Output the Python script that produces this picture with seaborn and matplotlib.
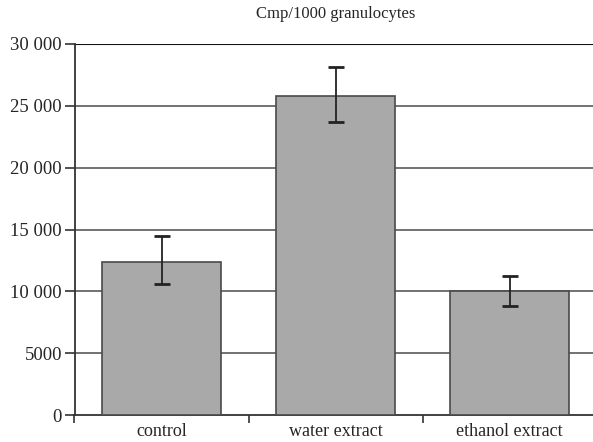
import matplotlib
matplotlib.use("Agg")
import matplotlib.pyplot as plt
import seaborn as sns
import pandas as pd
import numpy as np
from matplotlib.ticker import FuncFormatter, FixedLocator

categories = ["control", "water extract", "ethanol extract"]
values = [12400, 25800, 10000]
err_low = [10600, 23700, 8800]
err_high = [14500, 28100, 11200]
yticks = [0, 5000, 10000, 15000, 20000, 25000, 30000]
title = "Cmp/1000 granulocytes"

sns.set_theme(style="white")
plt.rcParams["font.family"] = ["Liberation Serif", "DejaVu Serif"]

fig = plt.figure(figsize=(5.93, 4.42), dpi=100)
ax = fig.add_axes([74.5 / 593, 1 - 415 / 442, 1 - 74.5 / 593 + 0.006, (415 - 44) / 442])

df = pd.DataFrame({"cat": categories, "val": values})
sns.barplot(data=df, x="cat", y="val", ax=ax, color="#a9a9a9", saturation=1,
            width=0.68, edgecolor="#4a4a4a", linewidth=1.2, errorbar=None, zorder=3)

x = np.arange(len(categories))
lo = np.array(values) - np.array(err_low)
hi = np.array(err_high) - np.array(values)
ax.errorbar(x, values, yerr=[lo, hi], fmt="none", ecolor="#222222",
            elinewidth=1.3, capsize=6, capthick=2, zorder=4)

ax.set_ylim(0, 30000)
ax.set_xlim(-0.5, 2.5)
ax.set_yticks(yticks)
ax.yaxis.set_major_formatter(FuncFormatter(
    lambda v, p: "0" if v == 0 else ("5000" if v == 5000 else f"{int(v):,}".replace(",", " "))))
for yv in yticks[1:-1]:
    ax.axhline(yv, color="#5a5a5a", linewidth=1.2, zorder=1)
ax.axhline(30000, color="#111111", linewidth=1.5, zorder=1)

ax.set_xlabel("")
ax.set_ylabel("")
ax.set_title(title, fontsize=12, pad=19)

for s in ["right", "top"]:
    ax.spines[s].set_visible(False)
ax.spines["left"].set_color("#333333")
ax.spines["left"].set_linewidth(1.3)
ax.spines["bottom"].set_color("#333333")
ax.spines["bottom"].set_linewidth(1.3)

ax.tick_params(axis="y", which="major", direction="out", length=7, width=1.2,
               color="#333333", labelsize=13.5, pad=2, left=True)
ax.tick_params(axis="x", which="major", length=0, labelsize=13, pad=6, bottom=True)
ax.xaxis.set_minor_locator(FixedLocator([-0.5, 0.5, 1.5]))
ax.tick_params(axis="x", which="minor", direction="out", length=6, width=1.2,
               color="#333333", bottom=True)

fig.savefig("out.png", dpi=100)
